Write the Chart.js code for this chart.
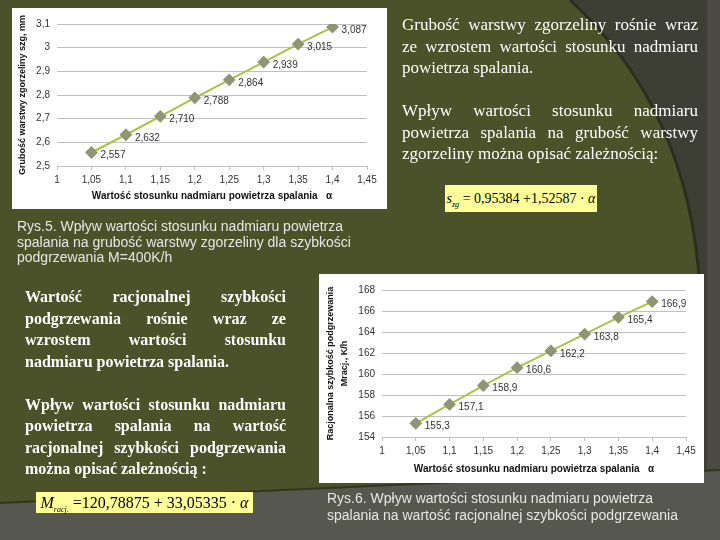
<!DOCTYPE html>
<html>
<head>
<meta charset="utf-8">
<script src="https://cdn.jsdelivr.net/npm/chart.js@4.4.1/dist/chart.umd.min.js"></script>
<style>
  html, body { margin: 0; padding: 0; }
  body { width: 720px; height: 540px; position: relative; overflow: hidden; background: #4b5129; }
  #bg { position: absolute; left: 0; top: 0; }
  .panel { position: absolute; background: #fff; }
  .txt { position: absolute; color: #fff; font-family: "Liberation Serif", serif; font-size: 17px; line-height: 21.5px; }
  .txt div { white-space: nowrap; height: 21.5px; }
  .txt .j { display: flex; justify-content: space-between; }
  .bold { font-weight: bold; font-size: 16px; }
  .cap { position: absolute; color: #e6e6e6; font-family: "Liberation Sans", sans-serif; font-size: 14px; white-space: nowrap; }
  .formula { position: absolute; background: #ffff99; color: #000; font-family: "Liberation Serif", serif; text-align: center; white-space: nowrap; overflow: visible; }
  .formula i { font-style: italic; }
  .formula .sb { font-size: 8px; font-style: italic; position: relative; top: 4px; }
</style>
</head>
<body>
<canvas id="bg" width="720" height="540"></canvas>

<div class="panel" style="left:12px; top:8px; width:375px; height:201px;"><canvas id="chart1"></canvas></div>
<div class="panel" style="left:319px; top:274px; width:385px; height:209px;"><canvas id="chart2"></canvas></div>

<div class="txt" style="left:402px; top:14px; width:296px;">
  <div class="j">Grubość warstwy zgorzeliny rośnie wraz</div>
  <div class="j">ze wzrostem wartości stosunku nadmiaru</div>
  <div>powietrza spalania.</div>
  <div>&nbsp;</div>
  <div class="j">Wpływ wartości stosunku nadmiaru</div>
  <div class="j">powietrza spalania na grubość warstwy</div>
  <div>zgorzeliny można opisać zależnością:</div>
</div>

<div class="formula" style="left:445px; top:185px; width:152px; height:27px; line-height:27px; font-size:14px;"><i>s</i><span class="sb">zg</span> = 0,95384 +1,52587 · <i>α</i></div>

<div class="cap" style="left:17px; top:219px; line-height:15.5px;">
  <div>Rys.5. Wpływ wartości stosunku nadmiaru powietrza</div>
  <div>spalania na grubość warstwy zgorzeliny dla szybkości</div>
  <div>podgrzewania M=400K/h</div>
</div>

<div class="txt bold" style="left:25px; top:286px; width:261px;">
  <div class="j">Wartość racjonalnej szybkości</div>
  <div class="j">podgrzewania rośnie wraz ze</div>
  <div class="j">wzrostem wartości stosunku</div>
  <div>nadmiaru powietrza spalania.</div>
  <div>&nbsp;</div>
  <div class="j">Wpływ wartości stosunku nadmiaru</div>
  <div class="j">powietrza spalania na wartość</div>
  <div class="j">racjonalnej szybkości podgrzewania</div>
  <div>można opisać zależnością :</div>
</div>

<div class="formula" style="left:36px; top:492px; width:217px; height:21px; line-height:21px; font-size:16px;"><i>M</i><span class="sb">racj.</span> =120,78875 + 33,05335 · <i>α</i></div>

<div class="cap" style="left:327px; top:490px; line-height:16.5px;">
  <div>Rys.6. Wpływ wartości stosunku nadmiaru powietrza</div>
  <div>spalania na wartość racjonalnej szybkości podgrzewania</div>
</div>

<script>
const alphaVals = [1.05, 1.1, 1.15, 1.2, 1.25, 1.3, 1.35, 1.4];
const thicknessVals = [2.557, 2.632, 2.710, 2.788, 2.864, 2.939, 3.015, 3.087];
const heatingVals = [155.3, 157.1, 158.9, 160.6, 162.2, 163.8, 165.4, 166.9];

const xTitle = 'Wartość stosunku nadmiaru powietrza spalania   α';
const yTitle1 = 'Grubość warstwy zgorzeliny szg, mm';
const yTitle2 = ['Racjonalna szybkość podgrzewania', 'Mracj., K/h'];

// justified lines: spread the words over the full width
document.querySelectorAll('.j').forEach(d => {
  const words = d.textContent.trim().split(/\s+/);
  d.innerHTML = words.map(w => '<span>' + w + '</span>').join('');
});

// background shapes of the slide
function drawBackground() {
  const c = document.getElementById('bg').getContext('2d');
  c.fillStyle = '#4b5129';
  c.fillRect(0, 0, 720, 540);
  c.fillStyle = '#3d3e34';
  c.beginPath();
  c.moveTo(570, 0);
  c.quadraticCurveTo(690, 110, 700, 290);
  c.lineTo(706, 540);
  c.lineTo(720, 540);
  c.lineTo(720, 0);
  c.closePath();
  c.fill();
  c.strokeStyle = '#2c2f1e';
  c.lineWidth = 3;
  c.beginPath();
  c.moveTo(570, 0);
  c.quadraticCurveTo(690, 110, 700, 290);
  c.stroke();
  c.fillStyle = '#4a4a42';
  c.fillRect(707, 0, 13, 540);
  c.fillStyle = '#56574e';
  c.beginPath();
  c.moveTo(0, 503);
  c.quadraticCurveTo(360, 488, 720, 470);
  c.lineTo(720, 540);
  c.lineTo(0, 540);
  c.closePath();
  c.fill();
  c.strokeStyle = '#33361f';
  c.lineWidth = 2;
  c.beginPath();
  c.moveTo(0, 503);
  c.quadraticCurveTo(360, 488, 720, 470);
  c.stroke();
}
drawBackground();

function fmt(v, d) {
  return parseFloat(v.toFixed(d)).toString().replace('.', ',');
}

const pointLabels = {
  id: 'pointLabels',
  afterDatasetsDraw(chart, args, opts) {
    const ctx = chart.ctx;
    const meta = chart.getDatasetMeta(0);
    const vals = chart.data.datasets[0].data;
    ctx.save();
    ctx.font = '10px "Liberation Sans"';
    ctx.fillStyle = '#333';
    ctx.textBaseline = 'middle';
    meta.data.forEach((pt, i) => {
      ctx.fillText(vals[i].y.toFixed(opts.digits).replace('.', ','), pt.x + 9, pt.y + 3);
    });
    ctx.restore();
  }
};

function makeChart(id, yVals, cfg) {
  const ctx = document.getElementById(id).getContext('2d');
  return new Chart(ctx, {
    type: 'scatter',
    data: {
      datasets: [{
        data: alphaVals.map((a, i) => ({ x: a, y: yVals[i] })),
        showLine: true,
        borderColor: '#adc243',
        borderWidth: 2,
        pointStyle: 'rectRot',
        pointRadius: 5,
        pointBackgroundColor: '#8e9673',
        pointBorderColor: '#8e9673'
      }]
    },
    plugins: [pointLabels],
    options: {
      responsive: true,
      maintainAspectRatio: false,
      animation: false,
      layout: { padding: { left: 0, right: cfg.padRight, top: 16, bottom: 0 } },
      plugins: {
        legend: { display: false },
        tooltip: { enabled: false },
        pointLabels: { digits: cfg.digits }
      },
      scales: {
        x: {
          type: 'linear',
          min: 1, max: 1.45,
          afterFit: s => { s.height = cfg.xHeight; },
          ticks: { stepSize: 0.05, padding: 4, color: '#333', font: { family: 'Liberation Sans', size: 10 },
                   callback: v => fmt(v, 2) },
          grid: { drawOnChartArea: false, drawTicks: true, tickLength: 4, color: '#c0c0c0' },
          border: { display: true, color: '#c0c0c0' },
          title: { display: true, text: xTitle, color: '#111',
                   font: { family: 'Liberation Sans', size: 10, weight: 'bold' },
                   padding: { top: 0, bottom: cfg.xTitlePad } }
        },
        y: {
          min: cfg.yMin, max: cfg.yMax,
          afterFit: s => { s.width = cfg.yWidth; },
          ticks: { stepSize: cfg.yStep, padding: 7, color: '#333', font: { family: 'Liberation Sans', size: 10 },
                   callback: v => fmt(v, 1) },
          grid: { drawTicks: false, color: '#c0c0c0' },
          border: { display: false },
          title: { display: true, text: cfg.yTitle, color: '#111',
                   font: { family: 'Liberation Sans', size: 9, weight: 'bold', lineHeight: 1.6 },
                   padding: { top: cfg.yTitlePad, bottom: 0 } }
        }
      }
    }
  });
}

makeChart('chart1', thicknessVals, {
  padRight: 20, xHeight: 43, yWidth: 45, xTitlePad: 7, yTitlePad: 3,
  yMin: 2.5, yMax: 3.1, yStep: 0.1, digits: 3, yTitle: yTitle1
});
makeChart('chart2', heatingVals, {
  padRight: 18, xHeight: 46, yWidth: 63, xTitlePad: 8, yTitlePad: 4,
  yMin: 154, yMax: 168, yStep: 2, digits: 1, yTitle: yTitle2
});
</script>
</body>
</html>
